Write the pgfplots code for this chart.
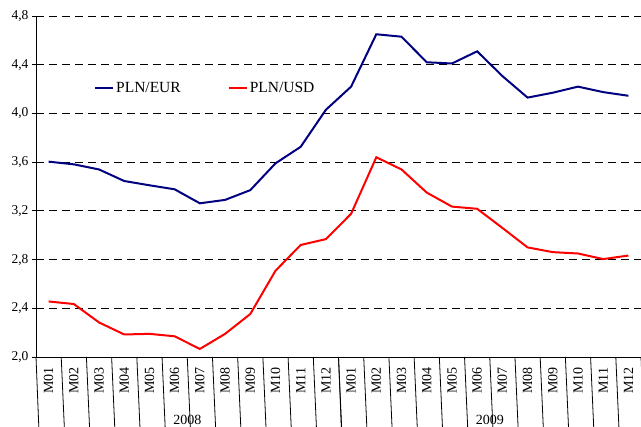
\documentclass[border=0pt]{standalone}
\usepackage{pgfplots}
\pgfplotsset{compat=1.18}
\usepackage{fontspec}
\setmainfont{Liberation Serif}
\definecolor{eurblue}{RGB}{0,0,128}
\definecolor{usdred}{RGB}{255,0,0}
\begin{document}
\begin{tikzpicture}
\begin{axis}[
  name=ax,
  scale only axis, width=605pt, height=341pt,
  xmin=-0.5, xmax=23.5, ymin=2, ymax=4.8,
  axis lines=left, axis line style={-, line width=0.8pt, black},
  clip=false,
  ytick={2,2.4,2.8,3.2,3.6,4.0,4.4,4.8},
  /pgf/number format/fixed, /pgf/number format/fixed zerofill,
  /pgf/number format/precision=1, /pgf/number format/use comma,
  /pgf/number format/assume math mode=true,
  yticklabel style={font=\fontsize{13.5}{15}\selectfont},
  ymajorgrids,
  major grid style={black, line width=0.8pt, dash pattern=on 8pt off 5pt},
  xtick={0,...,23},
  xticklabels={M01,M02,M03,M04,M05,M06,M07,M08,M09,M10,M11,M12,M01,M02,M03,M04,M05,M06,M07,M08,M09,M10,M11,M12},
  xticklabel style={rotate=90, anchor=west, font=\fontsize{14}{16}\selectfont},
  xticklabel shift=36pt,
  x tick style={draw=none},
  y tick style={black, line width=0.8pt},
  tick align=outside, major tick length=4pt,
  legend style={draw=none, fill=none, at={(axis cs:1.8,4.21)}, anchor=west,
    font=\fontsize{15.5}{17}\selectfont, inner xsep=0pt,
    /tikz/every even column/.append style={column sep=45pt}},
  legend columns=2,
  legend image code/.code={\draw[#1] (0pt,0pt) -- (18pt,0pt);},
]
\addplot[eurblue, line width=2pt] coordinates {
(0,3.604) (1,3.582) (2,3.54) (3,3.445) (4,3.41) (5,3.377) (6,3.262) (7,3.29) (8,3.37) (9,3.59) (10,3.726) (11,4.03)
(12,4.22) (13,4.65) (14,4.63) (15,4.42) (16,4.41) (17,4.51) (18,4.307) (19,4.13) (20,4.17) (21,4.22) (22,4.175) (23,4.145)};
\addlegendentry{PLN/EUR}
\addplot[usdred, line width=2pt] coordinates {
(0,2.456) (1,2.435) (2,2.284) (3,2.185) (4,2.19) (5,2.17) (6,2.066) (7,2.19) (8,2.353) (9,2.708) (10,2.92) (11,2.968)
(12,3.176) (13,3.64) (14,3.54) (15,3.35) (16,3.235) (17,3.217) (18,3.06) (19,2.90) (20,2.861) (21,2.85) (22,2.804) (23,2.833)};
\addlegendentry{PLN/USD}
\pgfplotsinvokeforeach{0.5,1.5,...,22.5}{
  \draw[black, line width=0.8pt] (axis cs:#1,2) -- ++(0,-40pt);
}
\pgfplotsinvokeforeach{-0.5,11.5,23.5}{
  \draw[black, line width=0.8pt] (axis cs:#1,2) -- ++(0,-70pt);
}
\node[font=\fontsize{14}{16}\selectfont, yshift=-63pt] at (axis cs:5.5,2) {2008};
\node[font=\fontsize{14}{16}\selectfont, yshift=-63pt] at (axis cs:17.5,2) {2009};
\end{axis}
\pgfresetboundingbox
\path[use as bounding box] ([xshift=-36pt,yshift=-70pt]ax.south west) rectangle ([yshift=16pt]ax.north east);
\end{tikzpicture}
\end{document}
